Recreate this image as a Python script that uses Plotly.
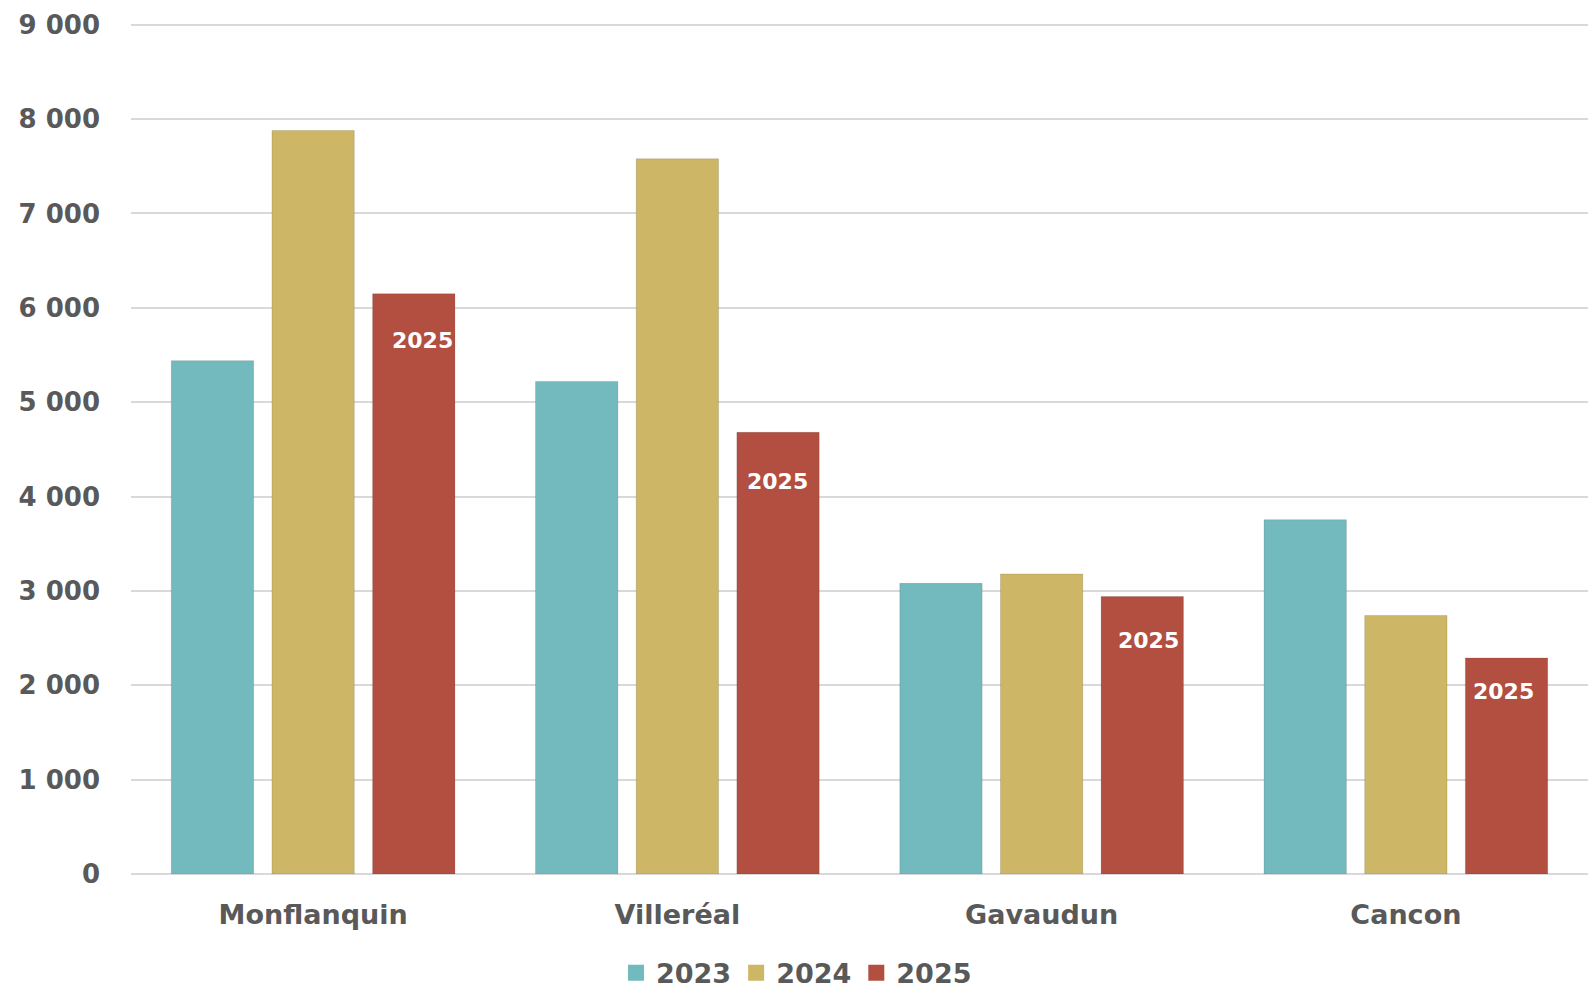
import plotly.graph_objects as go

categories = ["Monflanquin", "Villeréal", "Gavaudun", "Cancon"]
series_names = ["2023", "2024", "2025"]
values_2023 = [5440, 5220, 3080, 3755]
values_2024 = [7880, 7580, 3180, 2740]
values_2025 = [6150, 4680, 2940, 2290]
tick_values = [0, 1000, 2000, 3000, 4000, 5000, 6000, 7000, 8000, 9000]
tick_labels = ["0", "1 000", "2 000", "3 000", "4 000", "5 000", "6 000", "7 000", "8 000", "9 000"]

colors = ["#72BABE", "#CDB665", "#B24F40"]
FONT = "DejaVu Sans"
TXT = "#595959"

fig = go.Figure()
for name, vals, col in zip(series_names, [values_2023, values_2024, values_2025], colors):
    fig.add_trace(go.Bar(
        x=categories, y=vals, name=name, showlegend=False,
        marker=dict(color=col, line=dict(color="rgba(0,0,0,0.12)", width=1)),
        hoverinfo="x+y+name",
    ))
    fig.add_trace(go.Scatter(
        x=[None], y=[None], name=name, mode="markers",
        marker=dict(symbol="square", size=16, color=col),
    ))

# labels inside the 2025 bars (pixel offsets from the bar top / slot centre)
label_drop = [47, 49, 44, 34]
label_dx = [9, 0, 6, -3]
slot_px = 100.6
for cat, v, dy, dx in zip(categories, values_2025, label_drop, label_dx):
    fig.add_annotation(
        x=cat, y=v, xref="x", yref="y", text="2025", showarrow=False,
        xshift=slot_px + dx, yshift=-dy, yanchor="middle", xanchor="center",
        font=dict(family=FONT, size=22, color="white", weight="bold"),
    )

fig.update_layout(
    width=1593, height=989,
    margin=dict(l=131, r=5, t=20, b=115, autoexpand=False),
    paper_bgcolor="white", plot_bgcolor="white",
    barmode="group", bargap=0.171, bargroupgap=0.182,
    font=dict(family=FONT, color=TXT, size=26, weight="bold"),
    legend=dict(orientation="h", x=0.5, xanchor="center", xref="container",
                y=0.016, yanchor="middle", yref="container",
                font=dict(family=FONT, size=27, color=TXT, weight="bold"),
                itemwidth=30, tracegroupgap=0, traceorder="normal"),
    xaxis=dict(showgrid=False, showline=False, ticks="", ticklabelstandoff=22,
               automargin=False,
               tickfont=dict(family=FONT, size=27, color=TXT, weight="bold")),
    yaxis=dict(range=[0, 9050], tickvals=tick_values, ticktext=tick_labels,
               showgrid=True, gridcolor="#D9D9D9", gridwidth=1.5,
               zeroline=True, zerolinecolor="#D9D9D9", zerolinewidth=2,
               showline=False, ticks="", ticklabelstandoff=30, automargin=False,
               tickfont=dict(family=FONT, size=26, color=TXT, weight="bold")),
)

fig.write_html(
    "out.html",
    config={"displayModeBar": False},
    post_script="document.body.style.margin='0';document.body.style.overflow='hidden';",
)
